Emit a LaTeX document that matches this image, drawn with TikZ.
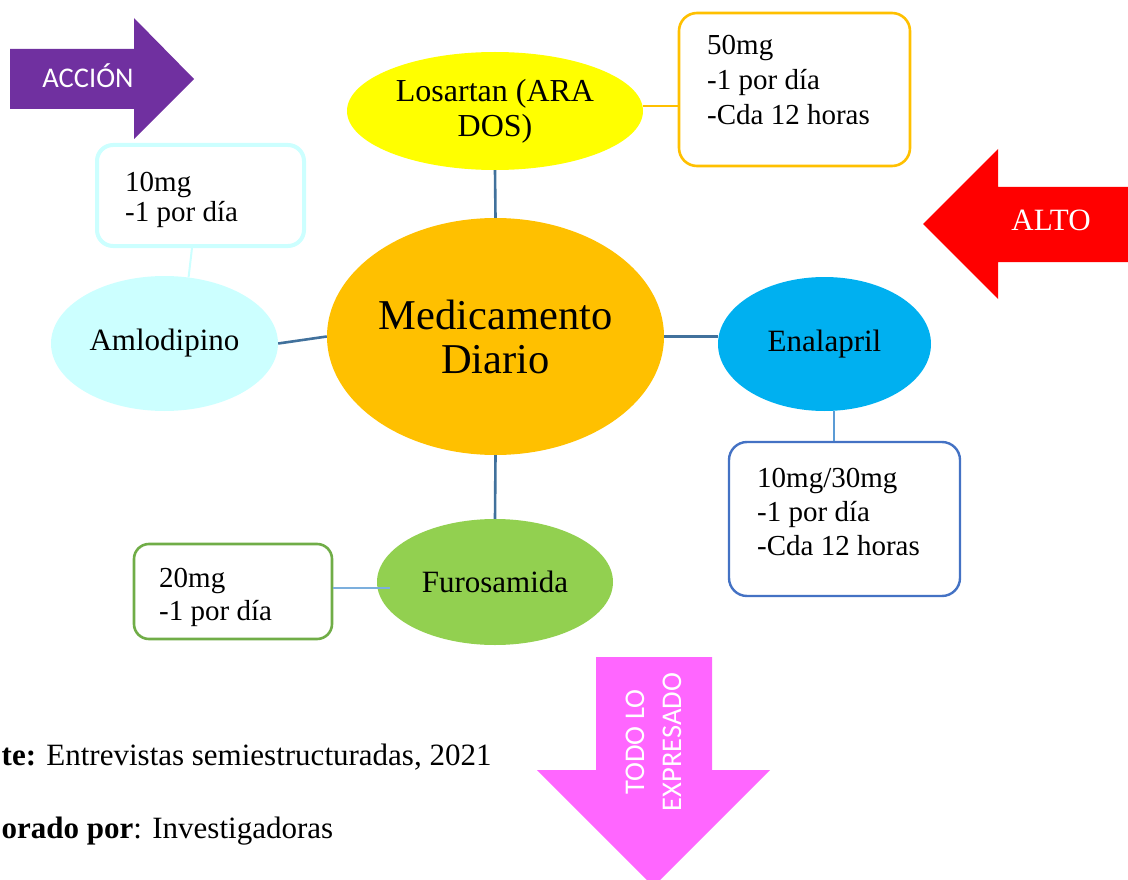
\documentclass[tikz,border=0pt]{standalone}
\usepackage{fontspec}
\setmainfont{Liberation Serif}
\newfontfamily\labelsans{Carlito}
\usetikzlibrary{shapes.geometric}

\definecolor{hubfill}{HTML}{FFC000}
\definecolor{losfill}{HTML}{FFFF00}
\definecolor{amlfill}{HTML}{CCFFFF}
\definecolor{enafill}{HTML}{00B0F0}
\definecolor{furfill}{HTML}{92D050}
\definecolor{spokeblue}{HTML}{41719C}
\definecolor{linkblue}{HTML}{5B9BD5}
\definecolor{boxblue}{HTML}{4472C4}
\definecolor{boxgreen}{HTML}{70AD47}
\definecolor{arrowpurple}{HTML}{7030A0}
\definecolor{arrowred}{HTML}{FF0000}
\definecolor{arrowpink}{HTML}{FF66FF}

\begin{document}
\begin{tikzpicture}[x=1pt,y=-1pt,
  bubble/.style={ellipse, inner sep=0pt, align=center, font=\fontsize{31}{35}\selectfont},
  notebox/.style={rounded corners=18pt, fill=white, inner sep=0pt},
  notetext/.style={anchor=base west, inner sep=0pt},
  spoke/.style={draw=spokeblue, line width=2.6pt},
  twig/.style={line width=1.3pt},
  arrowlabel/.style={text=white, inner sep=0pt},
  footnote/.style={anchor=base west, inner sep=0pt, font=\fontsize{31}{38}\selectfont}]
\useasboundingbox (0,0) rectangle (1128,880);

% block arrows
\fill[arrowpurple] (10,49) -- (134,49) -- (134,18) -- (194,79) -- (134,139) -- (134,109) -- (10,109) -- cycle;
\node[arrowlabel, font=\labelsans\fontsize{28.5}{32}\selectfont, anchor=base] (accion) at (88,88) {ACCIÓN};

\fill[arrowred] (1130,187) -- (998,187) -- (998,149) -- (923,224) -- (998,299) -- (998,262) -- (1130,262) -- cycle;
\node[arrowlabel, font=\fontsize{31}{35}\selectfont, anchor=base] (alto) at (1051,230) {ALTO};

\fill[arrowpink] (596,657) -- (712,657) -- (712,770) -- (770,770) -- (653.5,886.5) -- (537,770) -- (596,770) -- cycle;
\node[arrowlabel, font=\labelsans\fontsize{28.5}{37}\selectfont, rotate=90, align=center] (todo) at (653.5,742) {TODO LO\\EXPRESADO};

% central idea and the five medicines
\node[bubble, fill=hubfill, minimum width=337pt, minimum height=237pt, font=\fontsize{42.5}{44}\selectfont] (cen) at (495.5,336.5) {Medicamento\\Diario};
\node[bubble, fill=losfill, minimum width=296pt, minimum height=118pt, font=\fontsize{32}{35}\selectfont] (los) at (495,111) {Losartan (ARA\\DOS)};
\node[bubble, fill=amlfill, minimum width=227pt, minimum height=135pt] (aml) at (164.5,343.5) {Amlodipino};
\node[bubble, fill=enafill, minimum width=213pt, minimum height=134pt] (ena) at (824.5,344) {\raisebox{4pt}{Enalapril}};
\node[bubble, fill=furfill, minimum width=236pt, minimum height=126pt] (fur) at (495,582) {Furosamida};

% dosage boxes
\node[notebox, draw=hubfill, line width=2.6pt, minimum width=231pt, minimum height=153pt] (bLos) at (794.5,89.5) {};
\node[notetext, font=\fontsize{29}{35}\selectfont] (tLos) at (707,55) {\begin{tabular}[t]{@{}l@{}}50mg\\-1 por día\\-Cda 12 horas\end{tabular}};

\node[notebox, draw=amlfill, line width=4pt, rounded corners=16pt, minimum width=207pt, minimum height=101pt] (bAml) at (200.5,195.5) {};
\node[notetext, font=\fontsize{29}{30}\selectfont] (tAml) at (125,192) {\begin{tabular}[t]{@{}l@{}}10mg\\-1 por día\end{tabular}};

\node[notebox, draw=boxblue, line width=2.4pt, minimum width=231pt, minimum height=154pt] (bEna) at (844.5,519) {};
\node[notetext, font=\fontsize{29}{34}\selectfont] (tEna) at (757,487) {\begin{tabular}[t]{@{}l@{}}10mg/30mg\\-1 por día\\-Cda 12 horas\end{tabular}};

\node[notebox, draw=boxgreen, line width=2.6pt, rounded corners=15pt, minimum width=198pt, minimum height=95pt] (bFur) at (233,591.5) {};
\node[notetext, font=\fontsize{29}{33}\selectfont] (tFur) at (159,587) {\begin{tabular}[t]{@{}l@{}}20mg\\-1 por día\end{tabular}};

% connectors
\draw[spoke] (cen.north) -- (los.south);
\draw[spoke] (aml.east) -- (cen.west);
\draw[spoke] (cen.east) -- (ena.west |- cen.east);
\draw[spoke] (cen.south) -- (fur.north);
\draw[twig, draw=hubfill, line width=1.6pt] (los.2) -- (bLos.west |- los.2);
\draw[twig, draw=amlfill, line width=2pt] (aml.70) -- ([xshift=-8.5pt]bAml.south);
\draw[twig, draw=linkblue] ([xshift=9.5pt]ena.south) -- ([xshift=-10.5pt]bEna.north);
\draw[twig, draw=linkblue!80] ([yshift=3.5pt]bFur.east) -- ([xshift=13pt,yshift=-6pt]fur.west);

% source lines
\node[footnote] (fuente) at (1.5,765) {\textbf{te:} Entrevistas semiestructuradas, 2021};
\node[footnote] (autor) at (1.5,838) {\textbf{orado por}: Investigadoras};
\end{tikzpicture}
\end{document}
